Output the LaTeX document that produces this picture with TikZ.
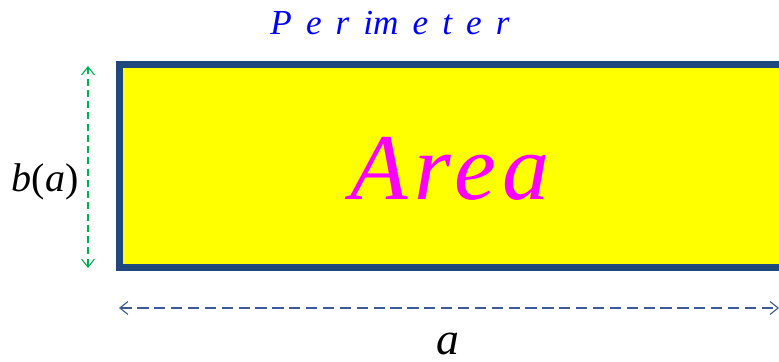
\documentclass[tikz,border=0pt]{standalone}
\usepackage{fontspec}
\setmainfont{Liberation Serif}
\newfontfamily\widefont[WordSpace=1.6]{Liberation Serif}
\usetikzlibrary{arrows.meta}

\definecolor{edgeblue}{RGB}{31,73,125}
\definecolor{dimgreen}{RGB}{0,176,80}
\definecolor{dimblue}{RGB}{60,90,150}
\definecolor{fieldyellow}{RGB}{255,255,0}
\definecolor{areapink}{RGB}{255,0,255}
\definecolor{perimblue}{RGB}{0,0,255}

\tikzset{
  label/.style={inner sep=0pt, anchor=base, font=\itshape},
  dimline/.style={line width=0.8pt, dash pattern=on 5pt off 3pt,
    {Straight Barb[length=2mm,width=3.2mm]}-{Straight Barb[length=2mm,width=3.2mm]}}
}

\begin{document}
\begin{tikzpicture}[x=0.025cm,y=0.025cm]
	\useasboundingbox (0,0) rectangle (779,362);
	\clip (0,0) rectangle (779,362);

	% the field
	\coordinate (nw) at (119.5,297.5);
	\coordinate (sw) at (119.5,94);
	\coordinate (ne) at (800,297.5);
	\coordinate (se) at (800,94);
	\draw[edgeblue, fill=fieldyellow, line width=0.175cm] (sw) rectangle (ne);

	\node[label, text=areapink, font=\fontsize{67}{67}\selectfont\itshape\addfontfeature{LetterSpace=7}] (area) at (450,162) {Area};
	\node[label, text=perimblue, font=\fontsize{25}{25}\widefont\itshape] (perim) at (390,327) {P e r im e t e r};

	% width b(a)
	\coordinate (btop) at (88,296);
	\coordinate (bbot) at (88,94);
	\draw[dimline, dimgreen] (btop) -- (bbot);
	\node[label, font=\fontsize{28.5}{28.5}\selectfont] (blab) at (45,170) {\itshape b\upshape(\itshape a\upshape)};

	% length a
	\coordinate (aleft) at (119,54);
	\coordinate (aright) at (779,54);
	\draw[dimline, dimblue, dash pattern=on 8pt off 4pt] (aleft) -- (aright);
	\node[label, text depth=0pt, font=\fontsize{32.5}{32.5}\selectfont\itshape] (alab) at (448,7) {a};
\end{tikzpicture}
\end{document}
